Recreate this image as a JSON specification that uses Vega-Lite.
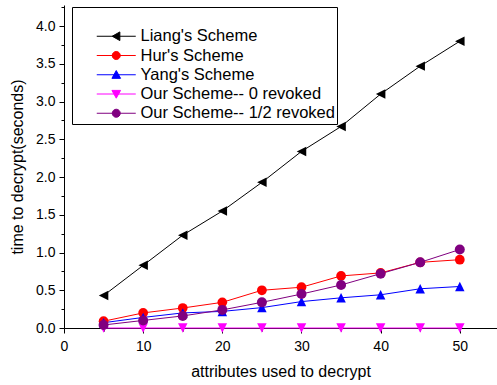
{
  "$schema": "https://vega.github.io/schema/vega-lite/v6.json",
  "autosize": "none",
  "width": 433,
  "height": 323,
  "padding": {"left": 64, "top": 5, "right": 0, "bottom": 57},
  "background": "white",
  "config": {
    "view": {"stroke": null},
    "font": "Liberation Sans",
    "axis": {
      "grid": false,
      "domainColor": "black",
      "tickColor": "black",
      "labelColor": "black",
      "titleColor": "black",
      "labelFont": "Liberation Sans",
      "titleFont": "Liberation Sans",
      "labelFontSize": 14,
      "titleFontSize": 16,
      "titleFontWeight": "normal",
      "domainWidth": 1,
      "tickWidth": 1
    }
  },
  "data": {
    "values": [
      {"attrs": 5, "time": 0.43, "series": "Liang's Scheme"},
      {"attrs": 10, "time": 0.83, "series": "Liang's Scheme"},
      {"attrs": 15, "time": 1.23, "series": "Liang's Scheme"},
      {"attrs": 20, "time": 1.55, "series": "Liang's Scheme"},
      {"attrs": 25, "time": 1.93, "series": "Liang's Scheme"},
      {"attrs": 30, "time": 2.34, "series": "Liang's Scheme"},
      {"attrs": 35, "time": 2.67, "series": "Liang's Scheme"},
      {"attrs": 40, "time": 3.10, "series": "Liang's Scheme"},
      {"attrs": 45, "time": 3.47, "series": "Liang's Scheme"},
      {"attrs": 50, "time": 3.80, "series": "Liang's Scheme"},
      {"attrs": 5, "time": 0.09, "series": "Hur's Scheme"},
      {"attrs": 10, "time": 0.20, "series": "Hur's Scheme"},
      {"attrs": 15, "time": 0.265, "series": "Hur's Scheme"},
      {"attrs": 20, "time": 0.34, "series": "Hur's Scheme"},
      {"attrs": 25, "time": 0.50, "series": "Hur's Scheme"},
      {"attrs": 30, "time": 0.54, "series": "Hur's Scheme"},
      {"attrs": 35, "time": 0.69, "series": "Hur's Scheme"},
      {"attrs": 40, "time": 0.73, "series": "Hur's Scheme"},
      {"attrs": 45, "time": 0.87, "series": "Hur's Scheme"},
      {"attrs": 50, "time": 0.905, "series": "Hur's Scheme"},
      {"attrs": 5, "time": 0.07, "series": "Yang's Scheme"},
      {"attrs": 10, "time": 0.14, "series": "Yang's Scheme"},
      {"attrs": 15, "time": 0.20, "series": "Yang's Scheme"},
      {"attrs": 20, "time": 0.22, "series": "Yang's Scheme"},
      {"attrs": 25, "time": 0.27, "series": "Yang's Scheme"},
      {"attrs": 30, "time": 0.35, "series": "Yang's Scheme"},
      {"attrs": 35, "time": 0.40, "series": "Yang's Scheme"},
      {"attrs": 40, "time": 0.44, "series": "Yang's Scheme"},
      {"attrs": 45, "time": 0.52, "series": "Yang's Scheme"},
      {"attrs": 50, "time": 0.55, "series": "Yang's Scheme"},
      {"attrs": 5, "time": 0, "series": "Our Scheme-- 0 revoked"},
      {"attrs": 10, "time": 0, "series": "Our Scheme-- 0 revoked"},
      {"attrs": 15, "time": 0, "series": "Our Scheme-- 0 revoked"},
      {"attrs": 20, "time": 0, "series": "Our Scheme-- 0 revoked"},
      {"attrs": 25, "time": 0, "series": "Our Scheme-- 0 revoked"},
      {"attrs": 30, "time": 0, "series": "Our Scheme-- 0 revoked"},
      {"attrs": 35, "time": 0, "series": "Our Scheme-- 0 revoked"},
      {"attrs": 40, "time": 0, "series": "Our Scheme-- 0 revoked"},
      {"attrs": 45, "time": 0, "series": "Our Scheme-- 0 revoked"},
      {"attrs": 50, "time": 0, "series": "Our Scheme-- 0 revoked"},
      {"attrs": 5, "time": 0.04, "series": "Our Scheme-- 1/2 revoked"},
      {"attrs": 10, "time": 0.10, "series": "Our Scheme-- 1/2 revoked"},
      {"attrs": 15, "time": 0.16, "series": "Our Scheme-- 1/2 revoked"},
      {"attrs": 20, "time": 0.24, "series": "Our Scheme-- 1/2 revoked"},
      {"attrs": 25, "time": 0.34, "series": "Our Scheme-- 1/2 revoked"},
      {"attrs": 30, "time": 0.45, "series": "Our Scheme-- 1/2 revoked"},
      {"attrs": 35, "time": 0.57, "series": "Our Scheme-- 1/2 revoked"},
      {"attrs": 40, "time": 0.72, "series": "Our Scheme-- 1/2 revoked"},
      {"attrs": 45, "time": 0.87, "series": "Our Scheme-- 1/2 revoked"},
      {"attrs": 50, "time": 1.04, "series": "Our Scheme-- 1/2 revoked"}
    ]
  },
  "encoding": {
    "x": {
      "field": "attrs",
      "type": "quantitative",
      "title": "attributes used to decrypt",
      "scale": {"domain": [0, 54.7], "nice": false, "zero": false},
      "axis": {
        "values": [0, 5, 10, 15, 20, 25, 30, 35, 40, 45, 50],
        "labelExpr": "datum.value % 10 === 0 ? datum.label : ''",
        "tickSize": {"condition": {"test": "datum.value % 10 === 0", "value": 5}, "value": 3},
        "labelPadding": 6,
        "titlePadding": 10,
        "labelFlush": false
      }
    },
    "y": {
      "field": "time",
      "type": "quantitative",
      "title": "time to decrypt(seconds)",
      "scale": {"domain": [0, 4.28], "nice": false},
      "axis": {
        "values": [0, 0.25, 0.5, 0.75, 1, 1.25, 1.5, 1.75, 2, 2.25, 2.5, 2.75, 3, 3.25, 3.5, 3.75, 4, 4.25],
        "labelExpr": "datum.value % 0.5 === 0 ? format(datum.value, '.1f') : ''",
        "tickSize": {"condition": {"test": "datum.value % 0.5 === 0", "value": 5}, "value": 3},
        "labelPadding": 4,
        "titlePadding": 10,
        "labelFlush": false
      }
    },
    "color": {
      "field": "series", "type": "nominal",
      "scale": {
        "domain": ["Liang's Scheme", "Hur's Scheme", "Yang's Scheme", "Our Scheme-- 0 revoked", "Our Scheme-- 1/2 revoked"],
        "range": ["#000000", "#ff0000", "#0000ff", "#ff00ff", "#800080"]
      },
      "legend": {
        "title": " ",
        "titleFontSize": 10,
        "titlePadding": 9,
        "orient": "none",
        "legendX": 8,
        "legendY": 2,
        "strokeColor": "black",
        "fillColor": "white",
        "padding": 2,
        "symbolOffset": 34,
        "labelOffset": 16,
        "labelFontSize": 16.5,
        "labelFont": "Liberation Sans",
        "labelColor": "black",
        "labelLimit": 400,
        "symbolSize": 144,
        "symbolStrokeWidth": 1,
        "rowPadding": 2.25,
        "encode": {
          "symbols": {
            "update": {
              "shape": {"signal": "datum.value === \"Liang's Scheme\" ? 'M-3.25,0H3.25M-0.67,0L0.6,-0.72L0.6,0.72Z' : datum.value === \"Yang's Scheme\" ? 'M-3.25,0H3.25M0,-0.7L0.72,0.6L-0.72,0.6Z' : datum.value === 'Our Scheme-- 0 revoked' ? 'M-3.25,0H3.25M0,0.7L0.72,-0.6L-0.72,-0.6Z' : 'M-3.25,0H3.25M-0.67,0A0.67,0.67 0 1 0 0.67,0A0.67,0.67 0 1 0 -0.67,0Z'"},
              "fill": {"scale": "color", "field": "value"},
              "stroke": {"scale": "color", "field": "value"},
              "strokeWidth": {"value": 1},
              "size": {"value": 144},
              "opacity": {"value": 1}
            }
          }
        }
      }
    }
  },
  "layer": [
    {"mark": {"type": "line", "strokeWidth": 1}},
    {
      "transform": [{"filter": "datum.series === \"Liang's Scheme\""}],
      "mark": {"type": "point", "filled": true, "size": 90, "opacity": 1, "shape": "M-1,0L1,-1L1,1Z"}
    },
    {
      "transform": [{"filter": "datum.series === \"Hur's Scheme\""}],
      "mark": {"type": "point", "filled": true, "size": 95, "opacity": 1, "shape": "circle"}
    },
    {
      "transform": [{"filter": "datum.series === \"Yang's Scheme\""}],
      "mark": {"type": "point", "filled": true, "size": 90, "opacity": 1, "shape": "M0,-1L1,1L-1,1Z"}
    },
    {
      "transform": [{"filter": "datum.series === 'Our Scheme-- 0 revoked'"}],
      "mark": {"type": "point", "filled": true, "size": 90, "opacity": 1, "shape": "M0,1L1,-1L-1,-1Z"}
    },
    {
      "transform": [{"filter": "datum.series === 'Our Scheme-- 1/2 revoked'"}],
      "mark": {"type": "point", "filled": true, "size": 100, "opacity": 1, "shape": "circle"}
    }
  ]
}
